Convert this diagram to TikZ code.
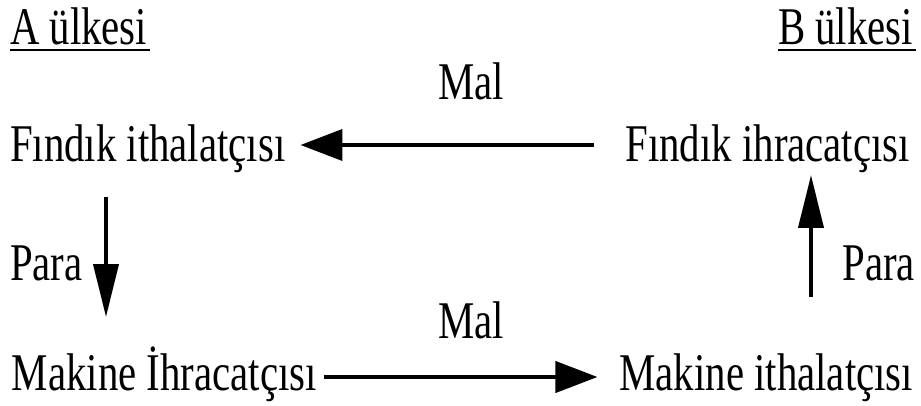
\documentclass[tikz,border=0pt]{standalone}
\usepackage{fontspec}
\setmainfont{Liberation Serif}[FakeStretch=0.77]
\usetikzlibrary{arrows.meta,calc}
\tikzset{
  lbl/.style={inner sep=0pt, outer sep=0pt, font=\fontsize{53}{60}\selectfont, text=black},
  harr/.style={line width=4pt, -{Triangle[length=42pt,width=31pt]}},
  varr/.style={line width=4pt, -{Triangle[length=53pt,width=25pt]}},
  uline/.style={line width=2.5pt}
}
\begin{document}
\begin{tikzpicture}[x=1pt,y=-1pt]
\useasboundingbox[fill=white] (0,0) rectangle (921,406);
% headings
\node[lbl, anchor=base west] (aul) at (10,45) {A ülkesi};
\node[lbl, anchor=base east] (bul) at (913,45) {B ülkesi};
\draw[uline] ($(aul.base west)+(0,5)$) -- ($(aul.base east)+(3,5)$);
\draw[uline] ($(bul.base west)+(0,5)$) -- ($(bul.base east)+(3,5)$);
% main labels
\node[lbl, anchor=base west] (fi) at (10,162) {Fındık ithalatçısı};
\node[lbl, anchor=base east] (fh) at (910,162) {Fındık ihracatçısı};
\node[lbl, anchor=base west] (mi) at (12,390) {Makine İhracatçısı};
\node[lbl, anchor=base east] (mt) at (913,390) {Makine ithalatçısı};
% edge labels
\node[lbl, anchor=base] (mal1) at (471,100) {Mal};
\node[lbl, anchor=base] (mal2) at (471,338) {Mal};
\node[lbl, anchor=base west] (para1) at (10,280) {Para};
\node[lbl, anchor=base east] (para2) at (915,280) {Para};
% arrows
\draw[harr] ($(fh.base west)+(-32,-17)$) -- ($(fi.base east)+(15,-17)$);
\draw[harr] ($(mi.base east)+(7,-13)$) -- ($(mt.base west)+(-22,-13)$);
\draw[varr] ($(fi.base west)+(96,35)$) -- ($(mi.base west)+(94,-73)$);
\draw[varr] ($(mt.base east)+(-102,-93)$) -- ($(fh.base east)+(-99,13)$);
\end{tikzpicture}
\end{document}
